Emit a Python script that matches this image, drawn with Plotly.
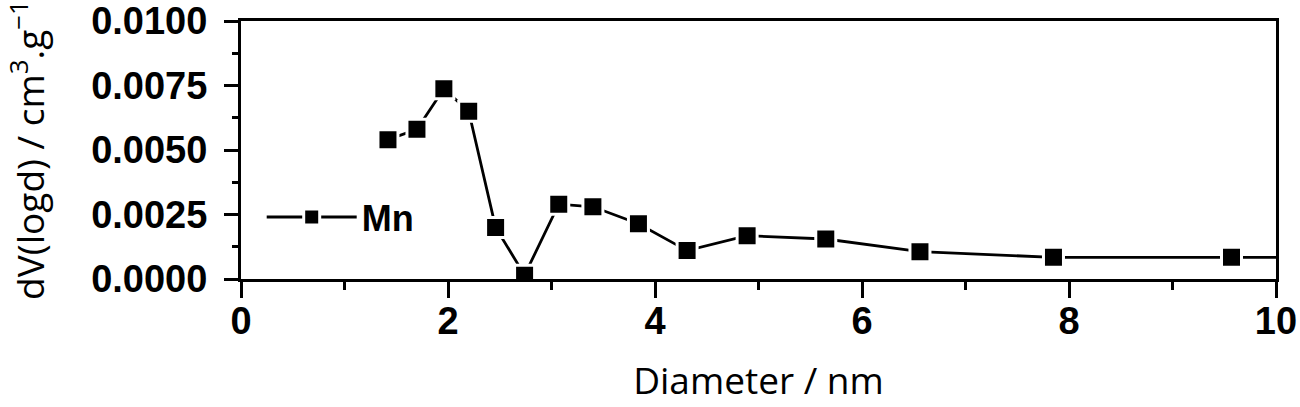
import plotly.graph_objects as go

diameter = [1.42, 1.70, 1.96, 2.20, 2.46, 2.74, 3.07, 3.40, 3.84, 4.31, 4.89, 5.65, 6.56, 7.85, 9.57, 11.0]
dv_logd = [0.0054, 0.0058, 0.00737, 0.0065, 0.0020, 0.00015, 0.0029, 0.0028, 0.00214, 0.0011, 0.00168, 0.00155, 0.00106, 0.00084, 0.00084, 0.00084]
series_name = "Mn"
x_ticks = [0, 2, 4, 6, 8, 10]
y_ticks = [0.0, 0.0025, 0.005, 0.0075, 0.01]
y_tick_labels = ["0.0000", "0.0025", "0.0050", "0.0075", "0.0100"]

tick_font = dict(family="Liberation Sans, Arial", size=38, color="black", weight="bold")
title_font = dict(family="Open Sans, Noto Sans", size=37, color="black")

fig = go.Figure()
fig.add_trace(go.Scatter(
    x=diameter, y=dv_logd, name=series_name, mode="lines+markers",
    line=dict(color="black", width=2.8),
    marker=dict(symbol="square", size=20, color="black", line=dict(color="white", width=3)),
    cliponaxis=True,
))

axis_common = dict(
    showline=True, linecolor="black", linewidth=3, mirror=True,
    showgrid=False, zeroline=False, ticks="outside", tickcolor="black",
    tickfont=tick_font, automargin=False, ticklabeloverflow="allow",
)

fig.update_xaxes(
    **axis_common, range=[0, 10], tickvals=x_ticks, ticklen=16, tickwidth=3,
    ticklabelstandoff=-10,
    minor=dict(tickvals=[1, 3, 5, 7, 9], ticks="outside", ticklen=8, tickwidth=3, tickcolor="black"),
    title=dict(text="Diameter / nm", font=title_font, standoff=28),
)
fig.update_yaxes(
    **axis_common, range=[0, 0.01], tickvals=y_ticks, ticktext=y_tick_labels, ticklen=14, tickwidth=3,
    ticklabelstandoff=9,
    minor=dict(tickvals=[0.00125, 0.00375, 0.00625, 0.00875], ticks="outside", ticklen=6, tickwidth=3, tickcolor="black"),
    title=dict(text="dV(logd) / cm<sup>3</sup>.g<sup>−1</sup>", font=title_font, standoff=44),
)

fig.update_layout(
    width=1300, height=407,
    margin=dict(l=241, r=24, t=21, b=128, autoexpand=False),
    paper_bgcolor="white", plot_bgcolor="white",
    showlegend=True,
    legend=dict(x=0.02, y=0.24, xanchor="left", yanchor="middle",
                font=dict(family="Liberation Sans, Arial", size=36, color="black", weight="bold"),
                itemwidth=90, bgcolor="rgba(0,0,0,0)", borderwidth=0),
)

fig.write_html("out.html", config={"displayModeBar": False},
               post_script="document.body.style.margin='0';document.body.style.overflow='hidden';")
